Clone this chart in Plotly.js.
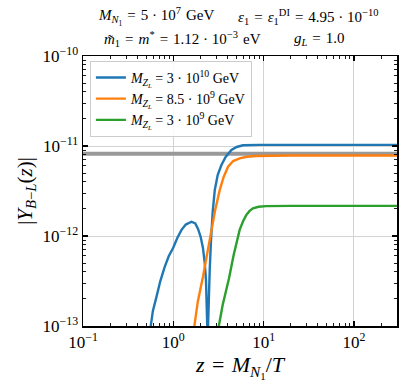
<!DOCTYPE html>
<html>
<head>
<meta charset="utf-8">
<script src="https://cdn.plot.ly/plotly-3.0.1.min.js"></script>
<style>html,body{margin:0;padding:0;background:#fff;}</style>
</head>
<body>
<div id="chart" style="width:411px;height:387px;"></div>
<script>
// Series
const seriesNames = [
  "<i>M</i><sub><i>Z</i><sub><i>L</i></sub></sub> = 3 · 10<sup>10</sup> GeV",
  "<i>M</i><sub><i>Z</i><sub><i>L</i></sub></sub> = 8.5 · 10<sup>9</sup> GeV",
  "<i>M</i><sub><i>Z</i><sub><i>L</i></sub></sub> = 3 · 10<sup>9</sup> GeV"
];
const seriesColors = ["#1f77b4", "#ff7f0e", "#2ca02c"];

const zBlue = [0.545, 0.560, 0.594, 0.652, 0.718, 0.805, 0.892, 0.995, 1.107, 1.233, 1.374, 1.589, 1.75, 1.879, 2.01, 2.13, 2.23, 2.30, 2.34, 2.37, 2.385,
               2.41, 2.424, 2.466, 2.53, 2.617, 2.73, 2.88, 3.10, 3.41, 3.80, 4.40, 5.03, 5.91, 7.0, 9.0, 20, 50, 100, 300];
const yBlue = [8.0e-14, 9.8e-14, 1.47e-13, 2.12e-13, 3.16e-13, 4.56e-13, 6.0e-13, 7.36e-13, 9.5e-13, 1.17e-12, 1.34e-12, 1.44e-12, 1.38e-12, 1.2e-12, 9.75e-13, 7.36e-13, 5.0e-13, 3.25e-13, 1.94e-13, 9.8e-14, 6.0e-14,
               6.0e-14, 9.8e-14, 1.94e-13, 4.19e-13, 9.03e-13, 1.85e-12, 3.25e-12, 4.76e-12, 6.15e-12, 7.55e-12, 9.03e-12, 9.75e-12, 1.019e-11, 1.027e-11, 1.03e-11, 1.03e-11, 1.03e-11, 1.03e-11, 1.03e-11];

const zOrange = [1.66, 1.70, 1.865, 2.13, 2.376, 2.64, 2.91, 3.27, 3.61, 4.04, 4.60, 5.43, 6.49, 8.30, 12, 20, 50, 100, 300];
const yOrange = [8.0e-14, 9.8e-14, 1.85e-13, 3.53e-13, 6.47e-13, 1.17e-12, 1.95e-12, 3.25e-12, 4.53e-12, 5.89e-12, 6.81e-12, 7.3e-12, 7.59e-12, 7.74e-12, 7.82e-12, 7.84e-12, 7.84e-12, 7.84e-12, 7.84e-12];

const zGreen = [3.12, 3.18, 3.52, 4.14, 4.66, 5.43, 5.94, 6.44, 7.0, 7.62, 8.81, 10.7, 20, 50, 100, 300];
const yGreen = [8.0e-14, 9.8e-14, 1.71e-13, 3.39e-13, 6.15e-13, 1.17e-12, 1.47e-12, 1.71e-12, 1.90e-12, 2.03e-12, 2.11e-12, 2.15e-12, 2.16e-12, 2.16e-12, 2.16e-12, 2.16e-12];

const zRef = [0.1, 300];
const yRef = [8.2e-12, 8.2e-12];

const xTickVals = [0.1, 1, 10, 100];
const xTickText = ["10<sup>−1</sup>", "10<sup>0</sup>", "10<sup>1</sup>", "10<sup>2</sup>"];
const yTickVals = [1e-13, 1e-12, 1e-11, 1e-10];
const yTickText = ["10<sup>−13</sup>", "10<sup>−12</sup>", "10<sup>−11</sup>", "10<sup>−10</sup>"];

function minorTicks(decades) {
  const out = [];
  decades.forEach(function (d) { for (let k = 2; k <= 9; k++) out.push(k * d); });
  return out;
}
const xMinor = minorTicks([0.1, 1, 10, 100]).filter(function (v) { return v <= 300; });
const yMinor = minorTicks([1e-13, 1e-12, 1e-11]);

const serif = "Liberation Serif, DejaVu Serif, serif";
const E = "\u2004"; // three-per-em space (TeX-like relation spacing)
const T = "\u2005"; // four-per-em space (binary operator spacing)
const xRange = [-1, Math.log10(300)];
const yRange = [-13, -10];

const traces = [
  {x: zRef, y: yRef, mode: "lines", line: {color: "#999999", width: 4}, showlegend: false, hoverinfo: "skip"},
  {x: zBlue, y: yBlue, mode: "lines", name: seriesNames[0], line: {color: seriesColors[0], width: 2.4}},
  {x: zOrange, y: yOrange, mode: "lines", name: seriesNames[1], line: {color: seriesColors[1], width: 2.4}},
  {x: zGreen, y: yGreen, mode: "lines", name: seriesNames[2], line: {color: seriesColors[2], width: 2.4}}
];

function ax(extra) {
  return Object.assign({
    type: "log",
    showline: true, linecolor: "#000", linewidth: 1.5, mirror: "ticks",
    ticks: "inside", ticklen: 5, tickwidth: 1.2, tickcolor: "#000",
    showgrid: true, gridcolor: "#d3d3d3", gridwidth: 1,
    zeroline: false,
    tickmode: "array",
    tickfont: {family: serif, size: 17, color: "#000"}
  }, extra);
}

const layout = {
  width: 411, height: 387,
  margin: {l: 83, r: 14, t: 56, b: 61},
  paper_bgcolor: "#fff", plot_bgcolor: "#fff",
  font: {family: serif, color: "#000"},
  xaxis: ax({
    range: xRange,
    tickvals: xTickVals, ticktext: xTickText,
    minor: {tickvals: xMinor, ticks: "inside", ticklen: 3, tickwidth: 0.9, tickcolor: "#000", showgrid: false},
    title: {text: "<i>z</i>" + E + "=" + E + "<i>M</i><sub><i>N</i><sub>1</sub></sub>/<i>T</i>", font: {family: serif, size: 22, color: "#000"}, standoff: 5}
  }),
  yaxis: ax({
    range: yRange,
    tickvals: yTickVals, ticktext: yTickText,
    minor: {tickvals: yMinor, ticks: "inside", ticklen: 3, tickwidth: 0.9, tickcolor: "#000", showgrid: false},
    title: {text: "|<i>Y</i><sub><i>B</i>−<i>L</i></sub>(<i>z</i>)|", font: {family: serif, size: 21, color: "#000"}, standoff: 4}
  }),
  legend: {
    x: 0.022, y: 0.982, xanchor: "left", yanchor: "top",
    bgcolor: "rgba(255,255,255,0.85)", bordercolor: "#cccccc", borderwidth: 1,
    font: {family: serif, size: 14, color: "#000"},
    tracegroupgap: 0
  },
  annotations: [
    {xref: "paper", yref: "paper", x: 0.042, y: 1.146, xanchor: "left", yanchor: "middle", showarrow: false,
     text: "<i>M</i><sub><i>N</i><sub>1</sub></sub>" + E + "=" + E + "5" + T + "·" + T + "10<sup>7</sup>" + E + "GeV", font: {family: serif, size: 15, color: "#000"}},
    {xref: "paper", yref: "paper", x: 0.488, y: 1.146, xanchor: "left", yanchor: "middle", showarrow: false,
     text: "<i>ε</i><sub>1</sub>" + E + "=" + E + "<i>ε</i><sub>1</sub><sup>DI</sup>" + E + "=" + E + "4.95" + T + "·" + T + "10<sup>−10</sup>", font: {family: serif, size: 15, color: "#000"}},
    {xref: "paper", yref: "paper", x: 0.061, y: 1.063, xanchor: "left", yanchor: "middle", showarrow: false,
     text: "<i>m̃</i><sub>1</sub>" + E + "=" + E + "<i>m</i><sup>*</sup>" + E + "=" + E + "1.12" + T + "·" + T + "10<sup>−3</sup>" + E + "eV", font: {family: serif, size: 15, color: "#000"}},
    {xref: "paper", yref: "paper", x: 0.667, y: 1.063, xanchor: "left", yanchor: "middle", showarrow: false,
     text: "<i>g</i><sub><i>L</i></sub>" + E + "=" + E + "1.0", font: {family: serif, size: 15, color: "#000"}}
  ],
  showlegend: true
};

Plotly.newPlot("chart", traces, layout, {displayModeBar: false, staticPlot: true});
</script>
</body>
</html>
